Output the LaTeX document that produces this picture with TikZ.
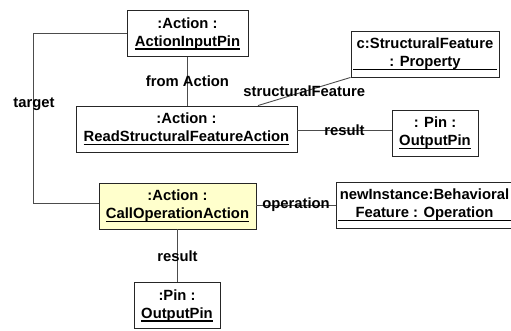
\documentclass[tikz,border=0pt]{standalone}
\usepackage{fontspec}
\setmainfont{Liberation Sans}
\definecolor{objfill}{RGB}{255,255,204}
\newcommand{\ulbox}[1]{\setbox0=\hbox{#1}\rlap{\rule[-3.6pt]{\wd0}{1.2pt}}\box0}

\begin{document}
\begin{tikzpicture}[x=1pt,y=-1pt,
	obj/.style={draw=black!85,line width=0.9pt,fill=white,align=center,inner sep=0pt,
		minimum height=46pt,font=\bfseries\fontsize{14.8}{18}\selectfont},
	link/.style={draw=black!70,line width=0.9pt},
	lbl/.style={inner sep=0pt,font=\bfseries\fontsize{14.8}{18}\selectfont}]
	%Rahmen
	\useasboundingbox (0,0) rectangle (511,331);
	% Objekte
	\node[obj,minimum width=121pt] (aip) at (187.5,33.5) {:Action :\\\ulbox{ActionInputPin}};
	\node[obj,minimum width=221pt] (rsfa) at (186.5,129) {:Action :\\\ulbox{ReadStructuralFeatureAction}};
	\node[obj,minimum width=148pt] (csfp) at (425,54) {c:StructuralFeature\\\ulbox{\makebox[144pt]{: Property}}};
	\node[obj,minimum width=86pt] (pinA) at (435,133) {: Pin :\\\ulbox{OutputPin}};
	\node[obj,minimum width=157pt,fill=objfill] (coa) at (177.5,206) {:Action :\\\ulbox{CallOperationAction}};
	\node[obj,minimum width=86pt] (pinB) at (177,305.5) {:Pin :\\\ulbox{OutputPin}};
	\node[obj,minimum width=177pt] (newi) at (424.5,205) {newInstance:Behavioral\\\ulbox{\makebox[173pt]{Feature : Operation}}};
	% Verbindungen
	\draw[link] (aip.south) -- node[lbl] (lfrom) {from Action} (aip.south |- rsfa.north);
	\draw[link] (aip.west) -- ++(-93,0) |- ([yshift=3pt]coa.west);
	\node[lbl] (ltarget) at (34,104) {target};
	\draw[link] ([xshift=71.5pt]rsfa.north) -- node[lbl] (lsf) {structuralFeature} (csfp.south west);
	\draw[link] ([yshift=-1pt]rsfa.east) -- node[lbl] (lresA) {result} ([yshift=-1pt]rsfa.east -| pinA.west);
	\draw[link] ([yshift=1pt]coa.east) -- node[lbl] (lop) {operation} ([yshift=1pt]coa.east -| newi.west);
	\draw[link] (coa.south) -- node[lbl] (lresB) {result} (coa.south |- pinB.north);
\end{tikzpicture}
\end{document}
